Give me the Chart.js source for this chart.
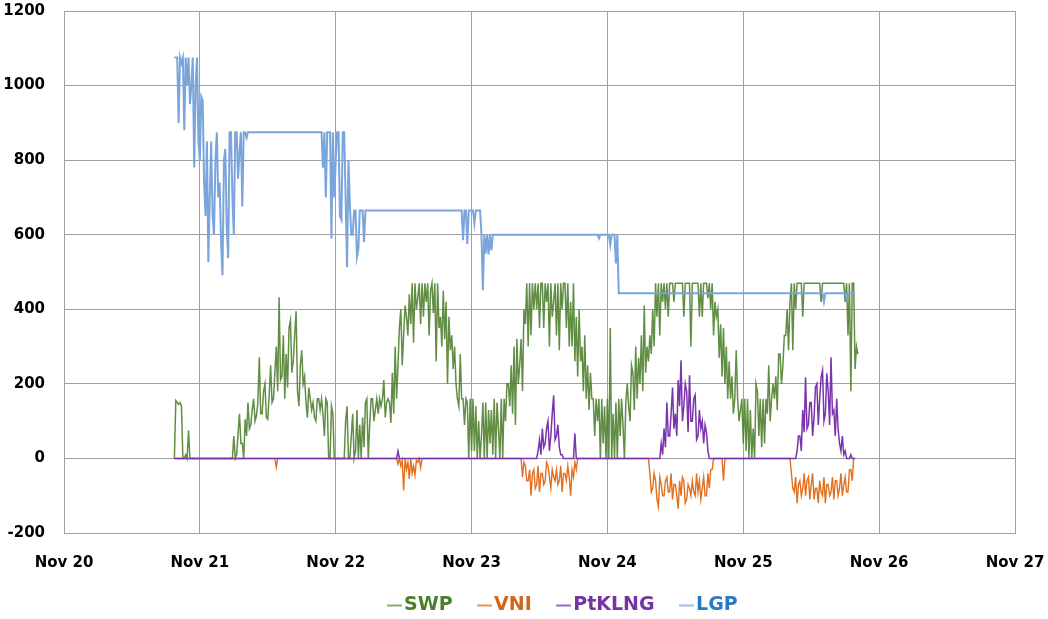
<!DOCTYPE html>
<html>
<head>
<meta charset="utf-8">
<script src="https://cdn.jsdelivr.net/npm/chart.js@4/dist/chart.umd.min.js"></script>
<style>
  html, body { margin: 0; padding: 0; background: #fff; }
</style>
</head>
<body>
<canvas id="chart" width="1048" height="619"></canvas>
<script>
'use strict';

// 15-minute samples, the first at Nov 20 19:30 (x = hours since Nov 20 00:00)
const START_HOUR = 19.5;
const STEP_HOURS = 0.25;
const DAY_LABELS = ['Nov 20', 'Nov 21', 'Nov 22', 'Nov 23', 'Nov 24', 'Nov 25', 'Nov 26', 'Nov 27'];

// each row below holds 6 hours (after the first two samples)
const swp = [
    0, 155,
    150, 145, 150, 140, 0, 0, 10, 0, 75, 0, 0, 0, 0, 0, 0, 0, 0, 0, 0, 0, 0, 0, 0, 0, 0, 0,
    0, 0, 0, 0, 0, 0, 0, 0, 0, 0, 0, 0, 0, 0, 60, 0, 10, 67, 120, 40, 40, 0, 105, 60,
    150, 80, 90, 130, 160, 100, 115, 150, 271, 120, 120, 180, 200, 110, 105, 170, 250, 150, 160, 230, 300, 180, 432, 210,
    220, 330, 160, 280, 190, 350, 370, 230, 260, 330, 395, 180, 140, 250, 290, 200, 220, 150, 110, 190, 160, 130, 150, 110,
    100, 160, 160, 130, 160, 120, 60, 160, 150, 0, 0, 140, 120, 0, 0, 0, 0, 0, 0, 0, 0, 100, 140, 0,
    0, 60, 120, 0, 20, 130, 0, 90, 0, 110, 30, 150, 160, 0, 90, 160, 160, 100, 130, 160, 120, 160, 140, 160,
    210, 110, 150, 160, 150, 95, 230, 120, 300, 160, 250, 350, 400, 250, 330, 410, 380, 330, 440, 360, 470, 310, 470, 400,
    430, 470, 360, 470, 380, 470, 420, 470, 330, 450, 470, 390, 470, 260, 470, 350, 380, 300, 450, 320, 420, 200, 380, 290,
    330, 240, 300, 200, 160, 140, 280, 160, 160, 90, 160, 150, 0, 160, 20, 160, 20, 140, 0, 100, 0, 60, 150, 0,
    150, 0, 130, 40, 130, 10, 160, 0, 150, 80, 0, 160, 0, 160, 100, 200, 200, 140, 250, 120, 300, 90, 320, 200,
    250, 320, 180, 400, 360, 470, 300, 470, 330, 470, 400, 470, 400, 470, 350, 470, 470, 350, 470, 420, 470, 300, 470, 380,
    420, 470, 330, 470, 290, 470, 400, 470, 470, 350, 470, 300, 420, 300, 470, 260, 380, 220, 400, 260, 300, 180, 330, 160,
    250, 130, 230, 160, 160, 60, 160, 100, 160, 0, 160, 40, 140, 0, 160, 0, 350, 0, 120, 0, 150, 0, 160, 60,
    160, 90, 0, 150, 200, 140, 100, 250, 230, 130, 300, 160, 270, 200, 330, 180, 410, 230, 300, 260, 330, 280, 400, 300,
    470, 380, 470, 330, 470, 420, 470, 400, 470, 380, 470, 470, 470, 420, 470, 470, 470, 470, 470, 470, 380, 470, 470, 470,
    470, 300, 470, 470, 470, 470, 470, 380, 470, 380, 470, 470, 470, 430, 470, 400, 470, 330, 420, 380, 400, 270, 360, 220,
    350, 200, 300, 160, 260, 160, 220, 120, 160, 290, 160, 100, 130, 160, 40, 160, 20, 160, 0, 130, 0, 80, 0, 200,
    180, 60, 160, 30, 160, 40, 160, 120, 250, 100, 160, 200, 160, 220, 130, 280, 280, 200, 250, 330, 330, 400, 290, 420,
    470, 290, 470, 400, 470, 470, 470, 470, 380, 470, 470, 470, 470, 470, 470, 470, 470, 470, 470, 470, 470, 420, 470, 470,
    470, 470, 470, 470, 470, 470, 470, 470, 470, 470, 470, 470, 470, 470, 420, 470, 330, 470, 180, 470, 470, 240, 300, 280
];

const vni = [
    0, 0,
    0, 0, 0, 0, 0, 0, 0, 0, 0, 0, 0, 0, 0, 0, 0, 0, 0, 0, 0, 0, 0, 0, 0, 0,
    0, 0, 0, 0, 0, 0, 0, 0, 0, 0, 0, 0, 0, 0, 0, 0, 0, 0, 0, 0, 0, 0, 0, 0,
    0, 0, 0, 0, 0, 0, 0, 0, 0, 0, 0, 0, 0, 0, 0, 0, 0, 0, 0, 0, 0, 0, -24, 0,
    0, 0, 0, 0, 0, 0, 0, 0, 0, 0, 0, 0, 0, 0, 0, 0, 0, 0, 0, 0, 0, 0, 0, 0,
    0, 0, 0, 0, 0, 0, 0, 0, 0, 0, 0, 0, 0, 0, 0, 0, 0, 0, 0, 0, 0, 0, 0, 0,
    0, 0, 0, 0, 0, 0, 0, 0, 0, 0, 0, 0, 0, 0, 0, 0, 0, 0, 0, 0, 0, 0, 0, 0,
    0, 0, 0, 0, 0, 0, 0, 0, 0, 0, 0, 0, -15, 0, -20, -5, -86, 0, -30, -10, -55, 0, -40, -20,
    -45, -5, -10, 0, -25, 0, 0, 0, 0, 0, 0, 0, 0, 0, 0, 0, 0, 0, 0, 0, 0, 0, 0, 0,
    0, 0, 0, 0, 0, 0, 0, 0, 0, 0, 0, 0, 0, 0, 0, 0, 0, 0, 0, 0, 0, 0, 0, 0,
    0, 0, 0, 0, 0, 0, 0, 0, 0, 0, 0, 0, 0, 0, 0, 0, 0, 0, 0, 0, 0, 0, 0, 0,
    0, 0, 0, 0, -50, -10, -20, -60, -60, -30, -100, -40, -30, -80, -70, -20, -90, -40, -40, -70, -60, -10, -20, -50,
    -80, -30, -50, -60, -30, -70, -60, -20, -90, -40, -40, -60, -20, -50, -100, -30, -50, -10, -30, 0, 0, 0, 0, 0,
    0, 0, 0, 0, 0, 0, 0, 0, 0, 0, 0, 0, 0, 0, 0, 0, 0, 0, 0, 0, 0, 0, 0, 0,
    0, 0, 0, 0, 0, 0, 0, 0, 0, 0, 0, 0, 0, 0, 0, 0, 0, 0, 0, 0, 0, 0, -40, -90,
    -80, -40, -60, -110, -130, -50, -70, -100, -100, -60, -50, -90, -90, -40, -110, -70, -70, -100, -135, -60, -100, -50, -60, -120,
    -110, -70, -80, -100, -60, -90, -100, -40, -90, -60, -110, -80, -50, -100, -100, -40, -80, -30, -30, 0, 0, 0, 0, 0,
    0, 0, -60, 0, 0, 0, 0, 0, 0, 0, 0, 0, 0, 0, 0, 0, 0, 0, 0, 0, 0, 0, 0, 0,
    0, 0, 0, 0, 0, 0, 0, 0, 0, 0, 0, 0, 0, 0, 0, 0, 0, 0, 0, 0, 0, 0, 0, 0,
    0, 0, -40, -80, -90, -50, -120, -70, -60, -100, -80, -40, -100, -60, -50, -110, -70, -40, -110, -80, -80, -120, -60, -90,
    -100, -50, -120, -70, -70, -100, -90, -50, -110, -60, -60, -100, -80, -40, -100, -70, -50, -90, -90, -30, -30, -60, 0, 0
];

const ptklng = [
    0, 0,
    0, 0, 0, 0, 0, 0, 0, 0, 0, 0, 0, 0, 0, 0, 0, 0, 0, 0, 0, 0, 0, 0, 0, 0,
    0, 0, 0, 0, 0, 0, 0, 0, 0, 0, 0, 0, 0, 0, 0, 0, 0, 0, 0, 0, 0, 0, 0, 0,
    0, 0, 0, 0, 0, 0, 0, 0, 0, 0, 0, 0, 0, 0, 0, 0, 0, 0, 0, 0, 0, 0, 0, 0,
    0, 0, 0, 0, 0, 0, 0, 0, 0, 0, 0, 0, 0, 0, 0, 0, 0, 0, 0, 0, 0, 0, 0, 0,
    0, 0, 0, 0, 0, 0, 0, 0, 0, 0, 0, 0, 0, 0, 0, 0, 0, 0, 0, 0, 0, 0, 0, 0,
    0, 0, 0, 0, 0, 0, 0, 0, 0, 0, 0, 0, 0, 0, 0, 0, 0, 0, 0, 0, 0, 0, 0, 0,
    0, 0, 0, 0, 0, 0, 0, 0, 0, 0, 0, 0, 20, 0, 0, 0, 0, 0, 0, 0, 0, 0, 0, 0,
    0, 0, 0, 0, 0, 0, 0, 0, 0, 0, 0, 0, 0, 0, 0, 0, 0, 0, 0, 0, 0, 0, 0, 0,
    0, 0, 0, 0, 0, 0, 0, 0, 0, 0, 0, 0, 0, 0, 0, 0, 0, 0, 0, 0, 0, 0, 0, 0,
    0, 0, 0, 0, 0, 0, 0, 0, 0, 0, 0, 0, 0, 0, 0, 0, 0, 0, 0, 0, 0, 0, 0, 0,
    0, 0, 0, 0, 0, 0, 0, 0, 0, 0, 0, 0, 0, 0, 0, 20, 50, 10, 80, 30, 40, 80, 100, 20,
    60, 120, 169, 50, 60, 90, 30, 10, 10, 0, 0, 0, 0, 0, 0, 0, 0, 67, 0, 0, 0, 0, 0, 0,
    0, 0, 0, 0, 0, 0, 0, 0, 0, 0, 0, 0, 0, 0, 0, 0, 0, 0, 0, 0, 0, 0, 0, 0,
    0, 0, 0, 0, 0, 0, 0, 0, 0, 0, 0, 0, 0, 0, 0, 0, 0, 0, 0, 0, 0, 0, 0, 0,
    0, 0, 0, 0, 0, 0, 40, 10, 80, 30, 150, 60, 60, 120, 190, 80, 120, 60, 210, 140, 263, 100, 140, 200,
    180, 70, 223, 100, 100, 160, 170, 50, 60, 130, 80, 100, 40, 90, 70, 20, 0, 0, 0, 0, 0, 0, 0, 0,
    0, 0, 0, 0, 0, 0, 0, 0, 0, 0, 0, 0, 0, 0, 0, 0, 0, 0, 0, 0, 0, 0, 0, 0,
    0, 0, 0, 0, 0, 0, 0, 0, 0, 0, 0, 0, 0, 0, 0, 0, 0, 0, 0, 0, 0, 0, 0, 0,
    0, 0, 0, 0, 0, 0, 20, 60, 60, 20, 130, 70, 218, 80, 90, 150, 150, 60, 110, 191, 200, 90, 160, 218,
    236, 100, 120, 228, 180, 90, 271, 120, 130, 60, 160, 80, 40, 20, 60, 10, 20, 0, 0, 0, 10, 0, 0, 0
];

const lgp = [
    1075, 1075,
    1075, 900, 1075, 1060, 1075, 880, 1075, 1000, 1075, 950, 1000, 1075, 780, 1000, 1075, 850, 800, 970, 960, 740, 650, 850, 526, 700,
    850, 650, 600, 800, 875, 700, 740, 580, 491, 800, 830, 620, 537, 875, 875, 700, 600, 875, 875, 750, 820, 875, 676, 875,
    875, 860, 875, 875, 875, 875, 875, 875, 875, 875, 875, 875, 875, 875, 875, 875, 875, 875, 875, 875, 875, 875, 875, 875,
    875, 875, 875, 875, 875, 875, 875, 875, 875, 875, 875, 875, 875, 875, 875, 875, 875, 875, 875, 875, 875, 875, 875, 875,
    875, 875, 875, 875, 875, 875, 875, 780, 875, 700, 875, 875, 875, 590, 875, 700, 800, 875, 875, 650, 640, 875, 875, 700,
    513, 800, 680, 600, 600, 665, 665, 540, 560, 665, 665, 665, 580, 665, 665, 665, 665, 665, 665, 665, 665, 665, 665, 665,
    665, 665, 665, 665, 665, 665, 665, 665, 665, 665, 665, 665, 665, 665, 665, 665, 665, 665, 665, 665, 665, 665, 665, 665,
    665, 665, 665, 665, 665, 665, 665, 665, 665, 665, 665, 665, 665, 665, 665, 665, 665, 665, 665, 665, 665, 665, 665, 665,
    665, 665, 665, 665, 665, 665, 665, 665, 665, 665, 585, 665, 665, 575, 665, 665, 665, 665, 630, 665, 665, 665, 665, 600,
    451, 600, 550, 600, 547, 600, 558, 600, 600, 600, 600, 600, 600, 600, 600, 600, 600, 600, 600, 600, 600, 600, 600, 600,
    600, 600, 600, 600, 600, 600, 600, 600, 600, 600, 600, 600, 600, 600, 600, 600, 600, 600, 600, 600, 600, 600, 600, 600,
    600, 600, 600, 600, 600, 600, 600, 600, 600, 600, 600, 600, 600, 600, 600, 600, 600, 600, 600, 600, 600, 600, 600, 600,
    600, 600, 600, 600, 600, 600, 600, 600, 600, 600, 590, 600, 600, 600, 600, 600, 600, 600, 572, 600, 600, 600, 523, 600,
    443, 443, 443, 443, 443, 443, 443, 443, 443, 443, 443, 443, 443, 443, 443, 443, 443, 443, 443, 443, 443, 443, 443, 443,
    443, 443, 443, 443, 443, 443, 443, 443, 443, 443, 443, 443, 443, 443, 443, 443, 443, 443, 443, 443, 443, 443, 443, 443,
    443, 443, 443, 443, 443, 443, 443, 443, 443, 443, 443, 443, 443, 443, 443, 443, 443, 443, 443, 443, 443, 443, 443, 443,
    443, 443, 443, 443, 443, 443, 443, 443, 443, 443, 443, 443, 443, 443, 443, 443, 443, 443, 443, 443, 443, 443, 443, 443,
    443, 443, 443, 443, 443, 443, 443, 443, 443, 443, 443, 443, 443, 443, 443, 443, 443, 443, 443, 443, 443, 443, 443, 443,
    443, 443, 443, 443, 443, 443, 443, 443, 443, 443, 443, 443, 443, 443, 443, 443, 443, 443, 443, 443, 443, 443, 443, 443,
    443, 420, 443, 443, 443, 443, 443, 443, 443, 443, 443, 443, 443, 443, 443, 443, 443, 430, 443, 443, 443, 443, 443, 443
];

const SERIES_NAMES  = ['SWP', 'VNI', 'PtKLNG', 'LGP'];
const LINE_COLORS   = ['rgba(80,130,48,0.9)', 'rgb(226,112,30)', 'rgb(122,52,172)', 'rgb(122,165,220)'];
const LEGEND_COLORS = ['#4b7f2e', '#d2661c', '#7434a4', '#2a78c8'];
const LINE_WIDTHS   = [1.5, 1.4, 1.5, 2];
const FONT = 'DejaVu Sans';

function toPoints(values) {
    return values.map((v, i) => ({x: START_HOUR + i * STEP_HOURS, y: v}));
}

// short legend dash, drawn in the right half so it sits close to the text
function legendDash(color) {
    const c = document.createElement('canvas');
    c.width = 30;
    c.height = 4;
    const ctx = c.getContext('2d');
    ctx.strokeStyle = color;
    ctx.lineWidth = 1.5;
    ctx.beginPath();
    ctx.moveTo(15, 2);
    ctx.lineTo(30, 2);
    ctx.stroke();
    return c;
}

// moves the legend to where the original one sits
const legendShift = {
    id: 'legendShift',
    afterLayout(chart) {
        const lg  = chart.legend;
        const pad = lg.options.labels.padding;
        const start = (lg.left + pad + lg.right - lg.lineWidths[0]) / 2;
        const dx = 379.5 - start;
        lg.left += dx;
        lg.right += dx;
        lg.top += 6;
        lg.bottom += 6;
    }
};

const series = [swp, vni, ptklng, lgp];

new Chart(document.getElementById('chart'), {
    type: 'line',
    data: {
        datasets: series.map((vals, i) => ({
            label:           SERIES_NAMES[i],
            data:            toPoints(vals),
            borderColor:     LINE_COLORS[i],
            backgroundColor: LINE_COLORS[i],
            borderWidth:     LINE_WIDTHS[i],
            pointRadius:     0,
            tension:         0,
            fill:            false,
            order:           4 - i
        }))
    },
    options: {
        responsive: false,
        animation:  false,
        layout: {padding: {top: 11, right: 33, left: 0, bottom: 0}},
        scales: {
            x: {
                type: 'linear',
                min: 0,
                max: 168,
                afterFit: (scale) => {
                    scale.height = 40;
                    scale.paddingLeft = 0;
                    scale.paddingRight = 0;
                },
                ticks: {
                    stepSize: 24,
                    autoSkip: false,
                    maxRotation: 0,
                    padding: 21,
                    color: '#000',
                    font: {family: FONT, size: 15, weight: 'bold'},
                    callback: (v) => DAY_LABELS[Math.round(v / 24)]
                },
                grid:   {color: '#a0a0a0', drawTicks: false},
                border: {color: '#a0a0a0'}
            },
            y: {
                min: -200,
                max: 1200,
                afterFit: (scale) => {
                    scale.width = 64;
                    scale.paddingTop = 0;
                    scale.paddingBottom = 0;
                },
                ticks: {
                    stepSize: 200,
                    padding: 19,
                    color: '#000',
                    font: {family: FONT, size: 15, weight: 'bold'},
                    callback: (v) => String(v)
                },
                grid:   {color: '#a0a0a0', drawTicks: false},
                border: {color: '#a0a0a0'}
            }
        },
        plugins: {
            tooltip: {enabled: false},
            legend: {
                position: 'bottom',
                labels: {
                    usePointStyle: true,
                    pointStyleWidth: 15,
                    padding: 17,
                    font: {family: FONT, size: 19, weight: 'bold'},
                    sort: (a, b) => a.datasetIndex - b.datasetIndex,
                    generateLabels(chart) {
                        const items = Chart.defaults.plugins.legend.labels.generateLabels(chart);
                        items.forEach((it) => {
                            it.fontColor  = LEGEND_COLORS[it.datasetIndex];
                            it.pointStyle = legendDash(LINE_COLORS[it.datasetIndex]);
                        });
                        return items;
                    }
                }
            }
        }
    },
    plugins: [legendShift]
});
</script>
</body>
</html>
